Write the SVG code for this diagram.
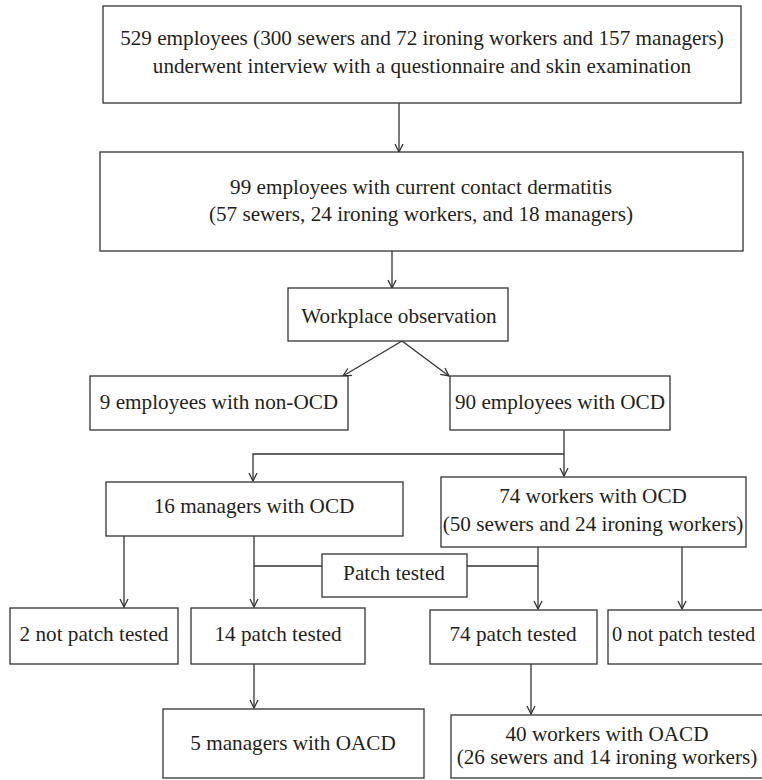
<svg xmlns="http://www.w3.org/2000/svg" width="762" height="780" viewBox="0 0 762 780">
<defs>
<style>
.box{fill:#fff;stroke:#333;stroke-width:1.3}
.t{font-family:"Liberation Serif","Times New Roman",serif;font-size:21.2px;fill:#231f20;text-anchor:middle}
.c{fill:none;stroke:#333;stroke-width:1.3}
</style>
<marker id="ah" viewBox="0 0 10 10" refX="9" refY="5" markerWidth="10" markerHeight="10" markerUnits="userSpaceOnUse" orient="auto">
<path d="M1,1 L9,5 L1,9" fill="none" stroke="#333" stroke-width="1.3"/>
</marker>
</defs>
<rect width="762" height="780" fill="#fff"/>
<g id="connectors">
<line class="c" x1="399" y1="103" x2="399" y2="152" marker-end="url(#ah)"/>
<line class="c" x1="392" y1="251" x2="392" y2="288" marker-end="url(#ah)"/>
<line class="c" x1="402" y1="341" x2="343" y2="376" marker-end="url(#ah)"/>
<line class="c" x1="402" y1="341" x2="449" y2="376" marker-end="url(#ah)"/>
<line class="c" x1="564" y1="430" x2="564" y2="454"/>
<polyline class="c" points="564,454 253,454 253,481" marker-end="url(#ah)"/>
<line class="c" x1="564" y1="454" x2="564" y2="476" marker-end="url(#ah)"/>
<line class="c" x1="124" y1="536" x2="124" y2="607" marker-end="url(#ah)"/>
<line class="c" x1="254" y1="536" x2="254" y2="607" marker-end="url(#ah)"/>
<line class="c" x1="254" y1="566" x2="322" y2="566"/>
<line class="c" x1="467" y1="566" x2="538" y2="566"/>
<line class="c" x1="538" y1="547" x2="538" y2="609" marker-end="url(#ah)"/>
<line class="c" x1="682" y1="547" x2="682" y2="609" marker-end="url(#ah)"/>
<line class="c" x1="254" y1="664" x2="254" y2="708" marker-end="url(#ah)"/>
<line class="c" x1="531" y1="664" x2="531" y2="714" marker-end="url(#ah)"/>
</g>
<g id="n1"><rect class="box" x="103" y="6" width="638" height="97"/>
<text class="t" x="422" y="45">529 employees (300 sewers and 72 ironing workers and 157 managers)</text>
<text class="t" x="422" y="73">underwent interview with a questionnaire and skin examination</text></g>
<g id="n2"><rect class="box" x="100" y="152" width="643" height="99"/>
<text class="t" x="421" y="194">99 employees with current contact dermatitis</text>
<text class="t" x="421" y="221">(57 sewers, 24 ironing workers, and 18 managers)</text></g>
<g id="n3"><rect class="box" x="288" y="288" width="220" height="53"/>
<text class="t" x="399" y="323">Workplace observation</text></g>
<g id="n4"><rect class="box" x="90" y="376" width="258" height="54"/>
<text class="t" x="219" y="409">9 employees with non-OCD</text></g>
<g id="n5"><rect class="box" x="450" y="376" width="220" height="54"/>
<text class="t" x="560" y="409">90 employees with OCD</text></g>
<g id="n6"><rect class="box" x="106" y="482" width="297" height="54"/>
<text class="t" x="254" y="513">16 managers with OCD</text></g>
<g id="n7"><rect class="box" x="441" y="477" width="305" height="70"/>
<text class="t" x="593" y="503">74 workers with OCD</text>
<text class="t" x="593" y="531">(50 sewers and 24 ironing workers)</text></g>
<g id="n8"><rect class="box" x="322" y="554" width="145" height="43"/>
<text class="t" x="394" y="580">Patch tested</text></g>
<g id="n9"><rect class="box" x="10" y="608" width="168" height="56"/>
<text class="t" x="94" y="641">2 not patch tested</text></g>
<g id="n10"><rect class="box" x="191" y="608" width="174" height="56"/>
<text class="t" x="278" y="641">14 patch tested</text></g>
<g id="n11"><rect class="box" x="430" y="610" width="167" height="54"/>
<text class="t" x="513" y="641">74 patch tested</text></g>
<g id="n12"><rect class="box" x="608" y="610" width="170" height="54"/>
<text class="t" x="612" y="641" style="text-anchor:start;font-size:20.4px">0 not patch tested</text></g>
<g id="n13"><rect class="box" x="163" y="709" width="261" height="69"/>
<text class="t" x="293" y="750">5 managers with OACD</text></g>
<g id="n14"><rect class="box" x="451" y="715" width="312" height="63"/>
<text class="t" x="607" y="741">40 workers with OACD</text>
<text class="t" x="607" y="764">(26 sewers and 14 ironing workers)</text></g>
</svg>
